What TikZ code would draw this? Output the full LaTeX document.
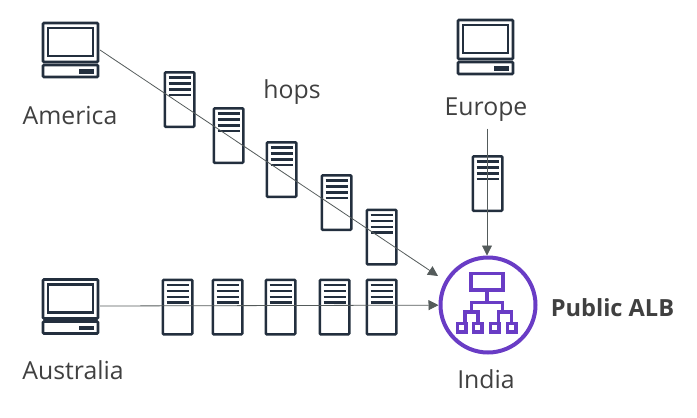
\documentclass[tikz,border=0pt]{standalone}
\usepackage{fontspec}
\setmainfont{Open Sans}
\usetikzlibrary{arrows.meta}
\definecolor{ink}{HTML}{232F3E}
\definecolor{albp}{HTML}{693CC5}
\definecolor{txt}{HTML}{404040}
\definecolor{wire}{HTML}{545B5B}
\tikzset{
  x=1pt,y=-1pt,
  icon/.style={draw=ink,line width=2.6pt,rounded corners=1pt,fill=white},
  holder/.style={inner sep=0pt,outer sep=0pt,minimum width=#1,minimum height=58pt},
  srvbox/.style={icon,inner sep=0pt,minimum width=29.5pt,minimum height=54.5pt},
  label/.style={text=txt,font=\fontsize{24.8}{28}\selectfont,inner sep=0pt},
  wireline/.style={draw=wire,line width=0.8pt,-{Triangle[length=10pt,width=10pt]}},
  albline/.style={draw=albp,line width=3.6pt},
  pics/laptop/.style={code={
    \draw[icon] (0,0) rectangle (55,39);
    \draw[draw=ink,line width=2.4pt] (5,5) rectangle (50,33);
    \draw[icon] (0,42) rectangle (55,54);
    \fill[ink] (36,46) rectangle (51,50.5);
  }},
  pics/srvlines/.style={code={
    \foreach \yy in {6.5,12.5,18.5,24} \draw[ink,line width=2.4pt] (5,\yy) -- (27,\yy);
  }}
}
\begin{document}
\begin{tikzpicture}
\useasboundingbox (0,0) rectangle (697,418);
% servers drawn first so that connectors run over them
\foreach \nm/\xx/\yy in {sa/163.5/71,sb/212.5/107,sc/265.5/141,sd/320.5/174,se/365.5/208.5,sf/471.5/155,
                          ga/161.5/278.5,gb/211.5/278.5,gc/264.5/278.5,gd/318.5/278.5,ge/365.5/278.5}{
  \node[srvbox,anchor=north west] (\nm) at (\xx,\yy) {};
  \pic at (\xx,\yy) {srvlines};
}
% laptops
\node[holder=59pt] (am) at (70.5,50) {};
\pic at (43,23) {laptop};
\node[holder=59pt] (eu) at (485.5,47) {};
\pic at (458,20) {laptop};
\node[holder=59pt] (au) at (70.5,306) {};
\pic at (43,279.5) {laptop};
% load balancer
\node[circle,draw=albp,line width=4pt,minimum size=95pt,inner sep=0pt] (alb) at (488,305) {};
\draw[albline] (471,273.5) rectangle (503,290);
\draw[albline] (487,290) -- (487,302.5) (471.5,312) -- (471.5,302.5) -- (502.5,302.5) -- (502.5,312);
\draw[albline] (465,322) -- (465,312) -- (478,312) -- (478,322);
\draw[albline] (498.5,322) -- (498.5,312) -- (511.5,312) -- (511.5,322);
\foreach \xx in {457.5,473.5,490.5,507.5}
  \draw[albline,line width=3.4pt,fill=white] (\xx,323.5) rectangle ++(8.5,8.5);
% labels
\node[label] (tam) at (70,116) {America};
\node[label] (tau) at (73,370.5) {Australia};
\node[label] (teu) at (486,109.5) {Europe};
\node[label] (tin) at (486,379.5) {India};
\node[label] (thp) at (292,92) {hops};
\node[label,font=\bfseries\fontsize{23.6}{26}\selectfont] (tal) at (612.5,308) {Public ALB};
% connectors
\coordinate (euout) at ([xshift=1pt,yshift=-7pt]teu.south);
\coordinate (albdiag) at (438,276);
\draw[wireline] (am.east) -- (albdiag);
\draw[wireline] (au.east) -- (alb);
\draw[wireline] (euout) -- (alb.north -| euout);
\end{tikzpicture}
\end{document}
